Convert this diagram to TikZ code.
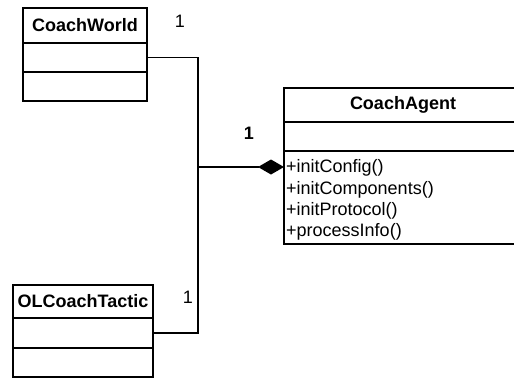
\documentclass[tikz,border=0pt]{standalone}
\usepackage{fontspec}
\setmainfont{Liberation Sans}
\usetikzlibrary{arrows.meta}
\begin{document}
\begin{tikzpicture}[x=1pt,y=-1pt,
  cell/.style={draw=black, line width=1.3pt, fill=white, inner sep=0pt, outer sep=0pt},
  title/.style={font=\fontsize{18}{21}\selectfont\bfseries},
  member/.style={font=\fontsize{18}{21}\selectfont, inner sep=0pt, anchor=base west},
  mult/.style={font=\fontsize{18}{21}\selectfont, inner sep=0pt, anchor=base},
  link/.style={draw=black, line width=1.3pt}
]
\useasboundingbox (0,0) rectangle (514,378);
\fill[white] (0,0) rectangle (514,378);

% CoachWorld class
\node[cell, title, minimum width=124pt, minimum height=35pt, anchor=north west] (cwh) at (23,8) {CoachWorld};
\node[cell, minimum width=124pt, minimum height=29pt, anchor=north] (cwa) at (cwh.south) {};
\node[cell, minimum width=124pt, minimum height=29pt, anchor=north] (cwm) at (cwa.south) {};

% OLCoachTactic class
\node[cell, title, minimum width=140pt, minimum height=33pt, anchor=north west] (olh) at (13,285) {OLCoachTactic};
\node[cell, minimum width=140pt, minimum height=30pt, anchor=north] (ola) at (olh.south) {};
\node[cell, minimum width=140pt, minimum height=29pt, anchor=north] (olm) at (ola.south) {};

% CoachAgent class
\node[cell, title, minimum width=238pt, minimum height=34pt, anchor=north west] (cah) at (284,88) {CoachAgent};
\node[cell, minimum width=238pt, minimum height=29pt, anchor=north] (caa) at (cah.south) {};
\node[cell, minimum width=238pt, minimum height=93pt, anchor=north] (cam) at (caa.south) {};
\node[member] (m1) at (286,172.7) {+initConfig()};
\node[member] (m2) at (286,194) {+initComponents()};
\node[member] (m3) at (286,215.3) {+initProtocol()};
\node[member] (m4) at (286,236.6) {+processInfo()};

% composition links
\coordinate (join) at (198,167);
\coordinate (cwturn) at (198,0 |- cwa.east);
\coordinate (olturn) at (198,0 |- ola.east);
\draw[link] (cwa.east) -- (cwturn) -- (join);
\draw[link] (ola.east) -- (olturn) -- (join);
\draw[link, -{Diamond[length=26pt,width=15pt]}] (join) -- (join -| cam.west);

% multiplicities
\node[mult] (n1) at (180,27) {1};
\node[mult, font=\fontsize{18}{21}\selectfont\bfseries] (n2) at (249,139) {1};
\node[mult] (n3) at (188,303) {1};
\end{tikzpicture}
\end{document}
